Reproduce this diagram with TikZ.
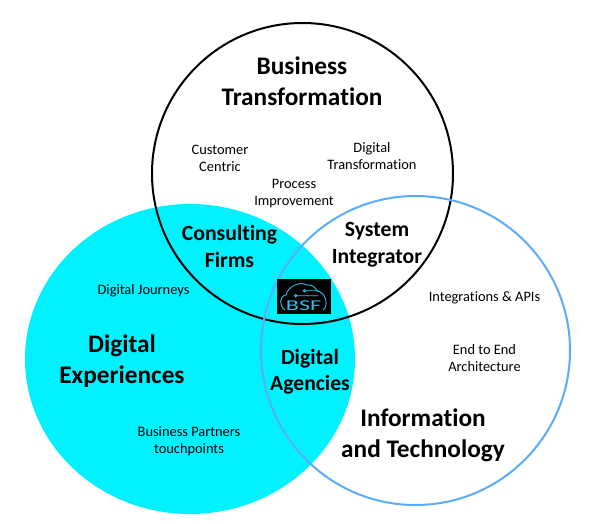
\documentclass[tikz,border=0pt]{standalone}
\usepackage{fontspec}
\setmainfont[Ligatures=NoCommon]{Carlito}
\definecolor{cy}{RGB}{0,242,255}
\definecolor{bl}{RGB}{90,172,250}
\definecolor{lg}{RGB}{50,190,235}
\tikzset{
 big/.style={font=\fontsize{25.3}{31}\selectfont\bfseries,align=center,text=black,inner sep=0pt},
 mid/.style={font=\fontsize{21.7}{26.5}\selectfont\bfseries,align=center,text=black,inner sep=0pt},
 small/.style={font=\fontsize{14.4}{17}\selectfont,align=center,text=black,inner sep=0pt},
 logo/.style={draw=lg,line width=0.9pt}
}
\begin{document}
\begin{tikzpicture}[x=1pt,y=-1pt]
\useasboundingbox (0,0) rectangle (606,523);
\fill[white] (0,0) rectangle (606,523);
\fill[cy] (190,359) ellipse [x radius=165,y radius=155];
\draw[black,line width=2pt] (302.5,173.5) circle [radius=150.5];
\draw[bl,line width=2pt] (415.5,350.5) circle [radius=154.5];
\node[big] (bt) at (302,81) {Business\\Transformation};
\node[small] (cc) at (220,158.5) {Customer\\Centric};
\node[small] (dt) at (372,156.5) {Digital\\Transformation};
\node[small] (pi) at (294,193.5) {Process\\Improvement};
\node[mid] (cf) at (229.5,246.5) {Consulting\\Firms};
\node[mid] (si) at (377,244.5) {System\\Integrator};
\node[small] (dj) at (143.5,291) {Digital Journeys};
\node[big] (de) at (122,361.5) {Digital\\Experiences};
\node[mid] (da) at (310,371.5) {Digital\\Agencies};
\node[small] (bp) at (189,441) {Business Partners\\touchpoints};
\node[small] (ia) at (484.5,298) {Integrations \& APIs};
\node[small] (ee) at (484.5,358.5) {End to End\\Architecture};
\node[big] (it) at (423,435.5) {Information\\and Technology};
% logo
\fill[black] (277.3,279) rectangle (331.3,314);
\draw[logo] (285,310) .. controls (279,306) and (279,296) .. (286,295)
  .. controls (288,286) and (300,281) .. (307,285)
  .. controls (312,284) and (316,288) .. (317,291)
  .. controls (326,292) and (329,306) .. (323,310);
\draw[logo] (304.5,290.7) circle [radius=1.2] (305.7,290.7) -- (318,290.7);
\draw[logo] (295.7,295.7) circle [radius=1.2] (296.9,295.7) -- (318,295.7);
\node[inner sep=0pt,text=lg,font=\fontsize{15}{15}\selectfont,xscale=1.6] (bsf) at (303.5,306) {BSF};
\end{tikzpicture}
\end{document}
